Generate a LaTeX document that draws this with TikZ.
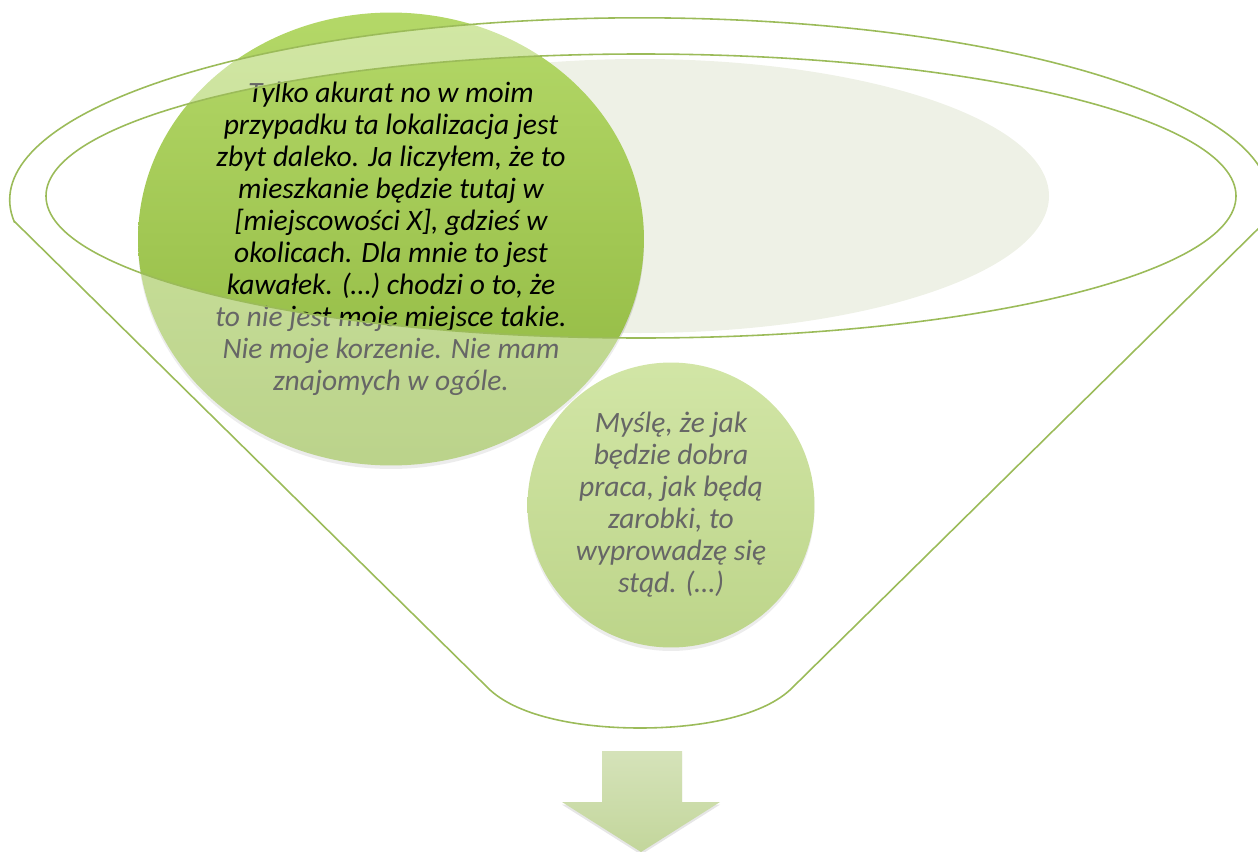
\documentclass[tikz,border=0pt]{standalone}
\usepackage{fontspec}
\setmainfont{Carlito}
\usetikzlibrary{shapes.geometric, shadows}
\definecolor{funnelgreen}{HTML}{9BBB59}
\definecolor{innergray}{HTML}{EEF1E6}
\begin{document}
\begin{tikzpicture}[x=0.02cm, y=-0.02cm]
        % Define styles
        \tikzset{
            rim/.style={draw=funnelgreen, line width=0.9pt},
            bubble/.style={ellipse, inner sep=0pt, align=center, text=black,
                font=\itshape\fontsize{16.8}{18.2}\selectfont,
                drop shadow={opacity=0.25, shadow xshift=0pt, shadow yshift=-2pt}},
            veil/.style={fill=white, fill opacity=0.4, even odd rule},
            downarrow/.style={top color=arrowtop, bottom color=arrowbottom, draw=none}
        }
        \colorlet{arrowtop}{funnelgreen!42!white}
        \colorlet{arrowbottom}{funnelgreen!60!white}

        \useasboundingbox (0,0) rectangle (1258,852);
        \clip (0,0) rectangle (1258,852);

        % Mouth of the funnel
        \fill[innergray] (640,196) ellipse [x radius=409, y radius=137];

        % Nodes
        \node[bubble, minimum width=5.74cm, minimum height=5.7cm,
              top color={rgb,255:red,180;green,213;blue,107},
              bottom color={rgb,255:red,145;green,185;blue,60}] (smallcircle) at (671,505)
            {Myślę, że jak\\
             będzie dobra\\
             praca, jak będą\\
             zarobki, to\\
             wyprowadzę się\\
             stąd. (…)};
        \node[bubble, minimum width=10.12cm, minimum height=9.06cm,
              top color={rgb,255:red,180;green,216;blue,104},
              middle color={rgb,255:red,158;green,202;blue,76},
              bottom color={rgb,255:red,142;green,182;blue,62}] (bigcircle) at (391,239)
            {Tylko akurat no w moim\\
             przypadku ta lokalizacja jest\\
             zbyt daleko. Ja liczyłem, że to\\
             mieszkanie będzie tutaj w\\
             {[}miejscowości X{]}, gdzieś w\\
             okolicach. Dla mnie to jest\\
             kawałek. (…) chodzi o to, że\\
             to nie jest moje miejsce takie.\\
             Nie moje korzenie. Nie mam\\
             znajomych w ogóle.};

        % Funnel body over the circles
        \fill[veil] (15,222) -- (488,688) .. controls (515,715) and (575,728) .. (640,728)
            .. controls (705,728) and (765,715) .. (792,688) -- (1265,222)
            arc[start angle=7, end angle=-187, x radius=630, y radius=182] -- cycle
            (641,196) ellipse [x radius=595, y radius=142];
        \draw[rim] (15,222) -- (488,688) .. controls (515,715) and (575,728) .. (640,728)
            .. controls (705,728) and (765,715) .. (792,688) -- (1265,222)
            arc[start angle=7, end angle=-187, x radius=630, y radius=182] -- cycle;
        \draw[rim] (641,196) ellipse [x radius=595, y radius=142];

        % Arrow
        \path[downarrow, drop shadow={opacity=0.2, shadow xshift=0pt, shadow yshift=-1.5pt}]
            (602,751) -- (682,751) -- (682,802) -- (720,802) -- (641,852)
            -- (562,802) -- (602,802) -- cycle;
    \end{tikzpicture}
\end{document}
